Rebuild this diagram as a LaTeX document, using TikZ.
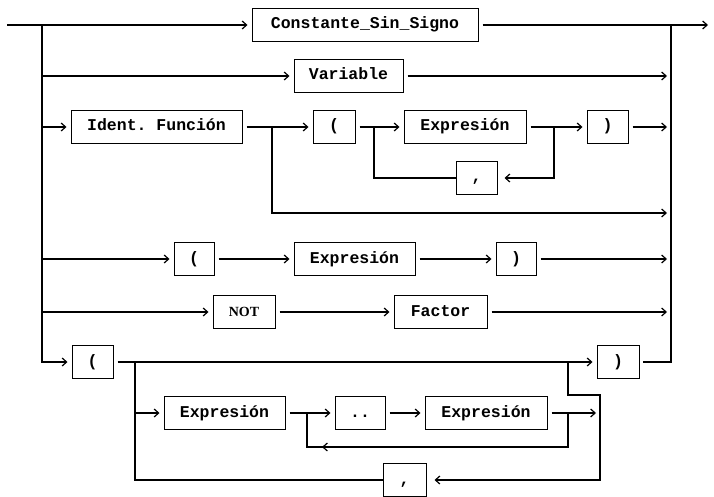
\documentclass[tikz,border=0pt]{standalone}
\usepackage{fontspec}
\setmonofont{Liberation Mono}
\newfontfamily\kwfont{Liberation Serif}
\usetikzlibrary{arrows.meta}
\begin{document}
\begin{tikzpicture}[x=1pt,y=-1pt,
  tok/.style={draw, line width=1pt, minimum height=33pt, inner sep=0pt,
    text height=11pt, text depth=3pt,
    font=\ttfamily\bfseries\fontsize{16.5}{18}\selectfont},
  rail/.style={line width=1.7pt, line cap=rect},
  go/.style={rail, line cap=butt, -{Straight Barb[length=4.5pt,width=8pt,line width=1.2pt]}, shorten >=4pt},
  fromnode/.style={shorten <=4pt}]
\useasboundingbox (0,0) rectangle (714,497);

% ---- syntax tokens ----
\node[tok, minimum width=226pt] (cons)   at (365,25)    {Constante\_Sin\_Signo};
\node[tok, minimum width=109pt] (var)    at (348.5,76)  {Variable};
\node[tok, minimum width=171pt] (ident)  at (156.5,127) {Ident. Función};
\node[tok, minimum width=42pt]  (lpA)    at (334,127)   {(};
\node[tok, minimum width=122pt] (exprA)  at (465,127)   {Expresión};
\node[tok, minimum width=41pt]  (rpA)    at (607.5,127) {)};
\node[tok, minimum width=41pt]  (commaA) at (476.5,178) {,};
\node[tok, minimum width=40pt]  (lpB)    at (194,259)   {(};
\node[tok, minimum width=121pt] (exprB)  at (354.5,259) {Expresión};
\node[tok, minimum width=40pt]  (rpB)    at (516,259)   {)};
\node[tok, minimum width=62pt, font=\kwfont\bfseries\fontsize{14}{16}\selectfont] (not) at (244,312) {NOT};
\node[tok, minimum width=93pt]  (factor) at (440.5,312) {Factor};
\node[tok, minimum width=41pt]  (lpC)    at (92.5,362)  {(};
\node[tok, minimum width=42pt]  (rpC)    at (618,362)   {)};
\node[tok, minimum width=121pt] (exprC)  at (224.5,413) {Expresión};
\node[tok, minimum width=50pt]  (dots)   at (360,413)   {..};
\node[tok, minimum width=122pt] (exprD)  at (486,413)   {Expresión};
\node[tok, minimum width=43pt]  (commaB) at (404.5,480) {,};

% ---- junction points ----
\coordinate (start) at (7,25);
\coordinate (stop)  at (712,25);
\coordinate (L)     at (42,25);
\coordinate (R)     at (671,25);
\coordinate (byp)   at (272,127);
\coordinate (bypE)  at (272,213);
\coordinate (cAL)   at (374,127);
\coordinate (cAR)   at (554,127);
\coordinate (sp)    at (135,362);
\coordinate (dd)    at (307,413);
\coordinate (ddL)   at (307,447);
\coordinate (rep)   at (568,413);
\coordinate (vt)    at (600,395);
\coordinate (vb)    at (600,480);
\coordinate (up)    at (568,362);

% ---- main rails ----
\draw[go] (start) -- (cons.west);
\draw[go, fromnode] (cons.east) -- (stop);
\draw[go] (L) |- (lpC.west);
\draw[rail, fromnode] (rpC.east) -| (R);

% Variable
\draw[go] (L |- var.west) -- (var.west);
\draw[go, fromnode] (var.east) -- (R |- var.east);

% function call
\draw[go] (L |- ident.west) -- (ident.west);
\draw[go, fromnode] (ident.east) -- (lpA.west);
\draw[go] (byp) |- (R |- bypE);
\draw[go, fromnode] (lpA.east) -- (exprA.west);
\draw[go, fromnode] (exprA.east) -- (rpA.west);
\draw[go, fromnode] (rpA.east) -- (R |- rpA.east);
\draw[go, shorten >=7pt] (cAR) |- (commaA.east);
\draw[rail] (commaA.west) -| (cAL);

% parenthesised expression
\draw[go] (L |- lpB.west) -- (lpB.west);
\draw[go, fromnode] (lpB.east) -- (exprB.west);
\draw[go, fromnode] (exprB.east) -- (rpB.west);
\draw[go, fromnode] (rpB.east) -- (R |- rpB.east);

% NOT Factor
\draw[go] (L |- not.west) -- (not.west);
\draw[go, fromnode] (not.east) -- (factor.west);
\draw[go, fromnode] (factor.east) -- (R |- factor.east);

% set constructor
\draw[go, fromnode] (lpC.east) -- (rpC.west);
\draw[rail] (sp) |- (commaB.west);
\draw[go] (sp |- exprC.west) -- (exprC.west);
\draw[go, fromnode] (exprC.east) -- (dots.west);
\draw[go, fromnode] (dots.east) -- (exprD.west);
\draw[go, fromnode] (exprD.east) -- (vt |- exprD.east);
\draw[rail] (rep) |- (ddL) -- (dd);
\draw[go, shorten >=0pt] ([xshift=24pt]ddL) -- ([xshift=15pt]ddL);
\draw[rail] (vb) -- (vt) -| (up);
\draw[go, shorten >=8pt] (vb) -- (commaB.east);
\end{tikzpicture}
\end{document}
